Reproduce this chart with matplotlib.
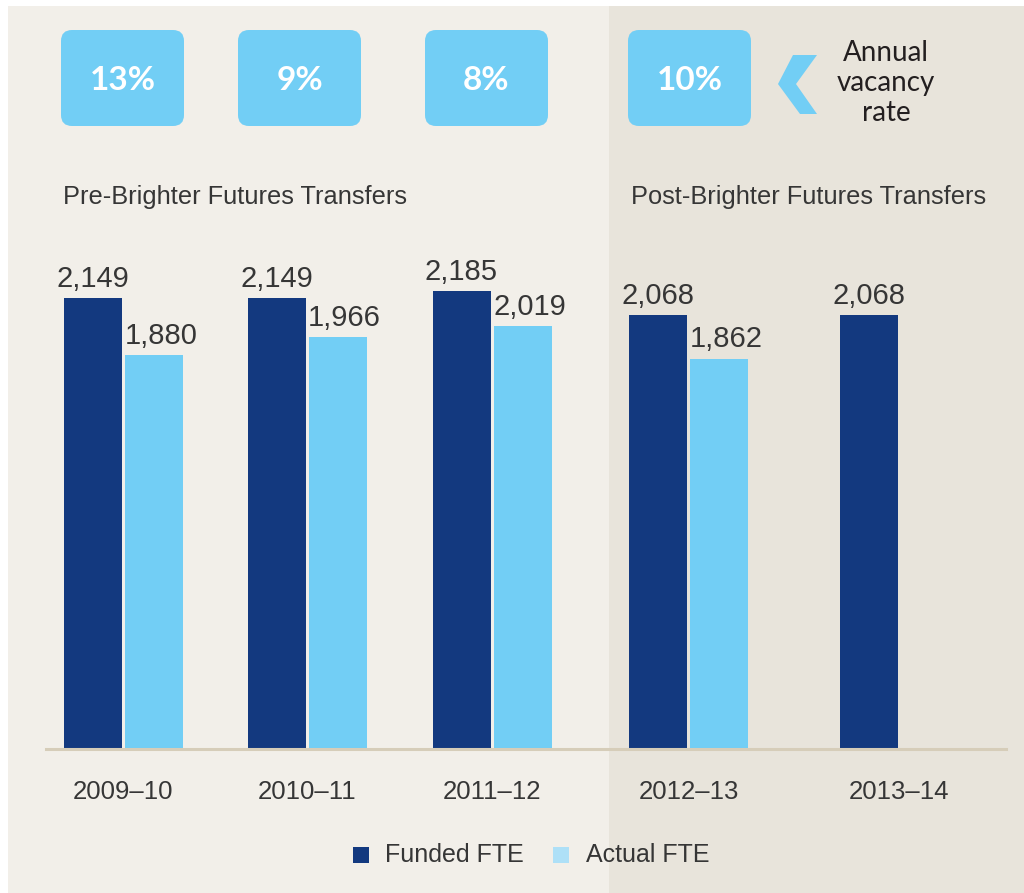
import matplotlib.pyplot as plt
from matplotlib.patches import FancyBboxPatch, Rectangle, Polygon

# data
years = ['2009–10', '2010–11', '2011–12', '2012–13', '2013–14']
funded = [2149, 2149, 2185, 2068, 2068]
actual = [1880, 1966, 2019, 1862, None]
vacancy = ['13%', '9%', '8%', '10%']
series_names = ['Funded FTE', 'Actual FTE']

# layout (pixels)
W, H = 1024, 893
group_x = [123.5, 307, 492, 688.5, 899.5]
box_x = [61, 238, 425, 628]
bar_w = 58
gap = 3
split_x = 609
base_y = 749
px_per_unit = 0.2097

DARK = '#13397f'
LIGHT = '#72cef5'
TXT = '#363636'
BG_L = '#f2efe9'
BG_R = '#e8e4db'

plt.rcParams['font.family'] = ['Liberation Sans', 'DejaVu Sans']

fig = plt.figure(figsize=(W / 100, H / 100), dpi=100)
fig.patch.set_facecolor('white')

# decoration layer in pixel coords
bg = fig.add_axes([0, 0, 1, 1])
bg.set_xlim(0, W)
bg.set_ylim(H, 0)
bg.axis('off')
bg.add_patch(Rectangle((8, 6), split_x - 8, H - 6, color=BG_L, lw=0))
bg.add_patch(Rectangle((split_x, 6), W - split_x, H - 6, color=BG_R, lw=0))

for bx, lab in zip(box_x, vacancy):
    bg.add_patch(FancyBboxPatch((bx, 30), 123, 96,
                                boxstyle='round,pad=0,rounding_size=11',
                                fc=LIGHT, ec='none'))
    bg.text(bx + 61.5, 80, lab, color='white', fontsize=24,
            family=['Lato', 'DejaVu Sans'], weight='bold',
            ha='center', va='center')

bg.add_patch(Polygon([(793, 55), (817, 55), (796, 84), (817, 114),
                      (800, 114), (778, 84)], closed=True, fc=LIGHT, ec='none'))
bg.text(886, 83, 'Annual\nvacancy\nrate', color='#231f20', fontsize=20,
        family=['Lato', 'DejaVu Sans'], ha='center', va='center',
        multialignment='center', linespacing=1.17)

bg.text(63, 197, 'Pre-Brighter Futures Transfers', color=TXT, fontsize=18.3,
        ha='left', va='center')
bg.text(631, 197, 'Post-Brighter Futures Transfers', color=TXT, fontsize=18.3,
        ha='left', va='center')

# legend
bg.add_patch(Rectangle((353, 847), 16, 16, color=DARK, lw=0))
bg.text(385, 855, series_names[0], color=TXT, fontsize=18, ha='left', va='center')
bg.add_patch(Rectangle((553, 847), 16, 16, color='#aee0f7', lw=0))
bg.text(586, 855, series_names[1], color=TXT, fontsize=18, ha='left', va='center')

# bar chart
top_px = 230
ax = fig.add_axes([0, (H - base_y) / H, 1, (base_y - top_px) / H])
ax.patch.set_alpha(0)
ax.set_xlim(0, W)
ax.set_ylim(0, (base_y - top_px) / px_per_unit)
for s in ax.spines.values():
    s.set_visible(False)
ax.set_yticks([])

off = (bar_w + gap) / 2
for gx, f, a in zip(group_x, funded, actual):
    ax.bar(gx - off, f, width=bar_w, color=DARK, zorder=2)
    ax.annotate(f'{f:,}', (gx - off, f), xytext=(0, 8), textcoords='offset points',
                ha='center', va='baseline', fontsize=21, color=TXT)
    if a is not None:
        ax.bar(gx + off, a, width=bar_w, color=LIGHT, zorder=2)
        ax.annotate(f'{a:,}', (gx + off, a), xytext=(5, 8), textcoords='offset points',
                    ha='center', va='baseline', fontsize=21, color=TXT)

ax.axhline(0, xmin=46 / W, xmax=1006 / W, color='#d6cdb9', lw=2.2,
           zorder=3, clip_on=False)
ax.set_xticks(group_x, years)
ax.tick_params(axis='x', length=0, pad=22, labelsize=18.5, labelcolor=TXT)

fig.savefig('out.png', dpi=100)
